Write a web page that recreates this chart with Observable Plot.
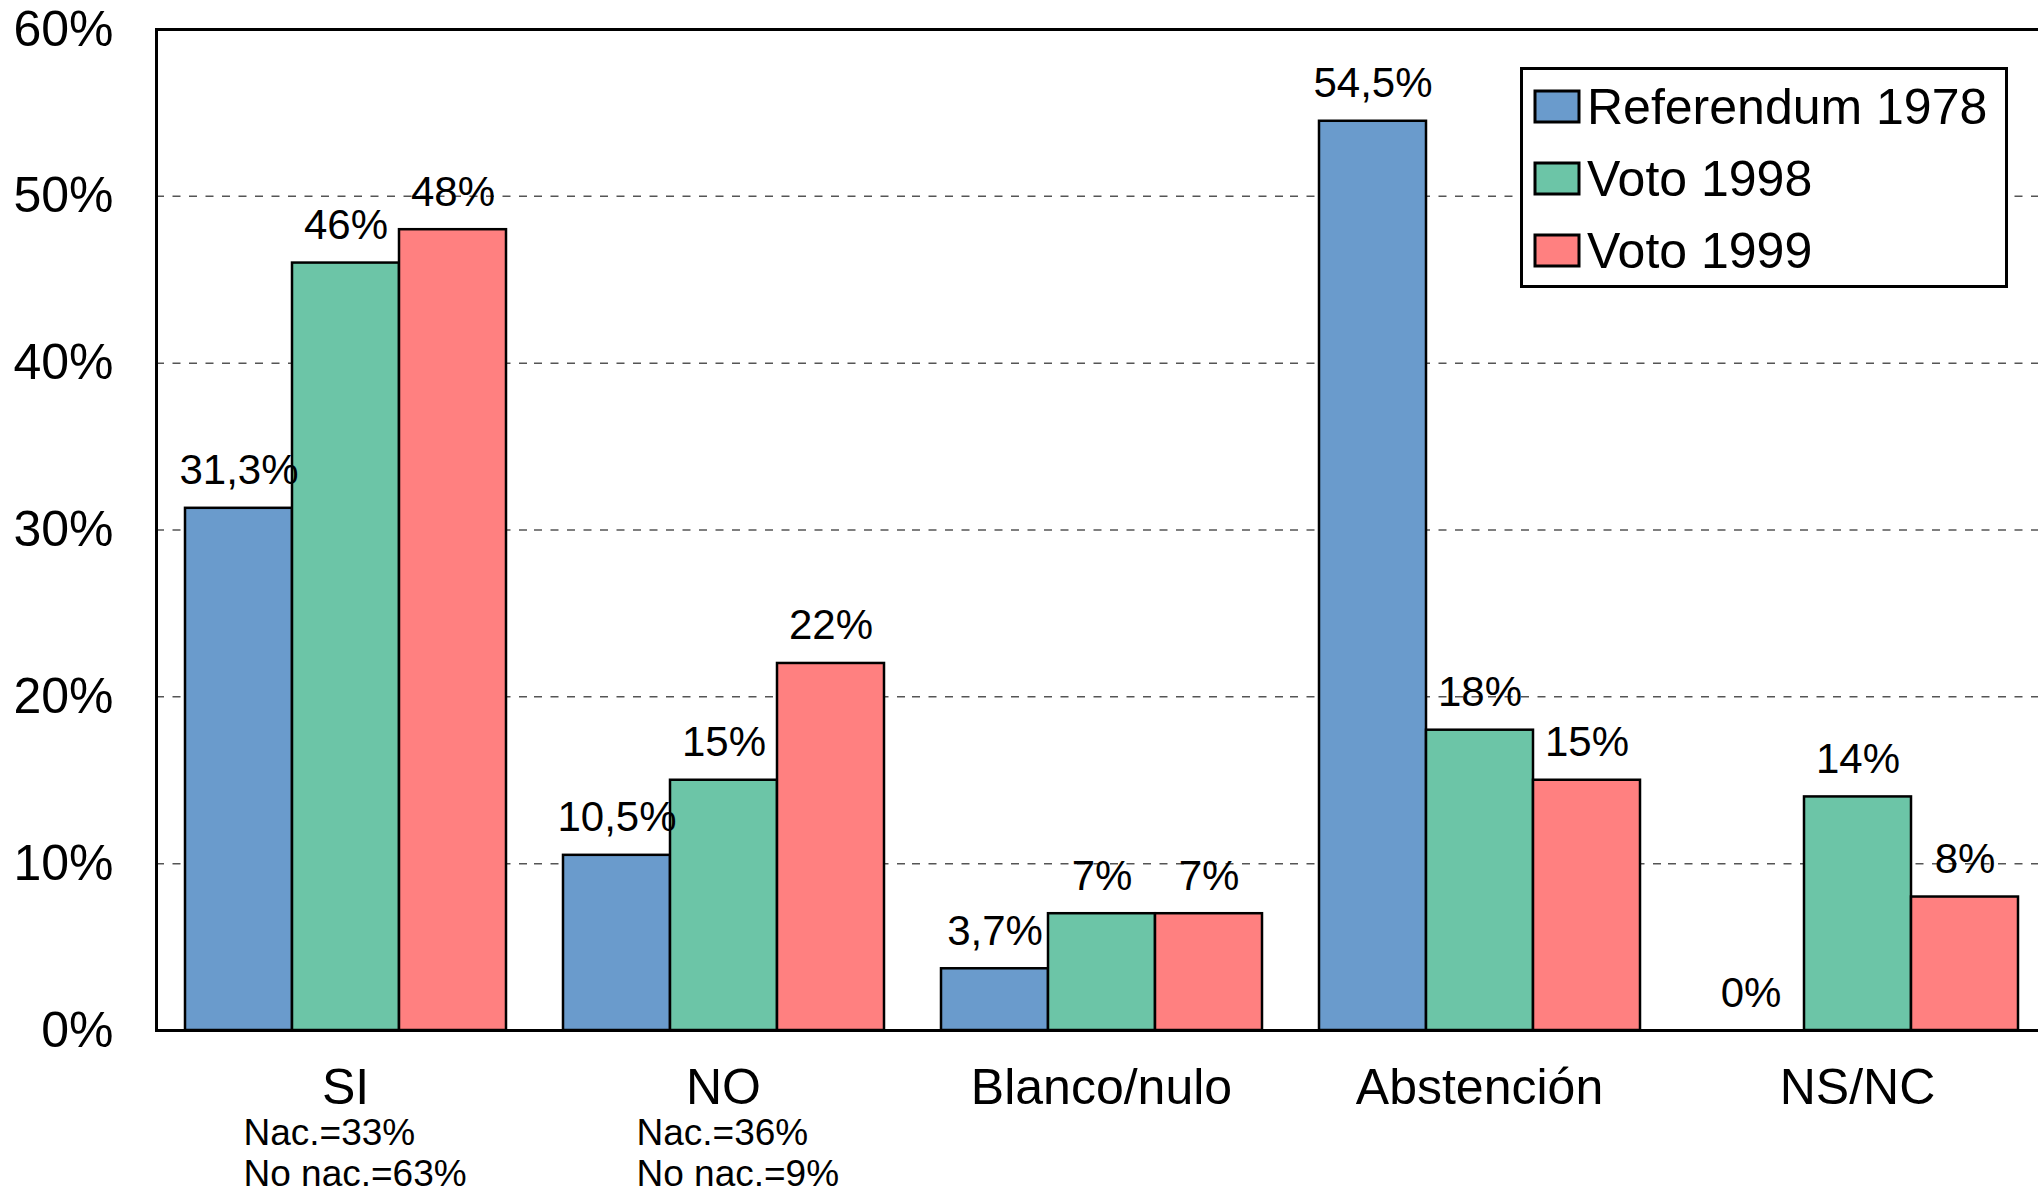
<!DOCTYPE html>
<html>
<head>
<meta charset="utf-8">
<script src="https://cdn.jsdelivr.net/npm/d3@7"></script>
<script src="https://cdn.jsdelivr.net/npm/@observablehq/plot@0.6"></script>
<style>
  html, body { margin: 0; padding: 0; background: #fff; overflow: hidden; }
  #wrap { position: relative; width: 2038px; height: 1193px; overflow: hidden; font-family: "Liberation Sans", Arial, sans-serif; }
  #wrap > svg { max-width: none !important; }
  #legendBox { position: absolute; left: 1520px; top: 67px; width: 488px; height: 221px; box-sizing: border-box;
    border: 3px solid #000; background: #fff; padding-left: 12px; }
  #legendBox .lg-swatches { margin: 0 !important; font-size: 50px !important; font-family: "Liberation Sans", Arial, sans-serif !important; color: #000; }
  #legendBox .lg-swatch { height: 72px; display: flex; align-items: center; padding: 0; margin: 0; }
  #legendBox .lg-swatch svg { width: 44px; height: 31px; margin-right: 8px !important; overflow: visible; flex-shrink: 0; }
  #legendBox .lg-swatch svg rect { stroke: #000; stroke-width: 3px; }
  #legendBox .lg-swatch-label { position: relative; top: 1px; overflow: visible !important; }
</style>
</head>
<body>
<div id="wrap"></div>
<script>
// ---- data ----
const categories = ["SI", "NO", "Blanco/nulo", "Abstención", "NS/NC"];
const series = ["Referendum 1978", "Voto 1998", "Voto 1999"];
const referendum1978 = [31.3, 10.5, 3.7, 54.5, 0];
const voto1998 = [46, 15, 7, 18, 14];
const voto1999 = [48, 22, 7, 15, 8];
const seriesColors = ["#6a9bcc", "#6cc5a7", "#ff8080"];
const yTicks = [0, 10, 20, 30, 40, 50, 60];
const gridTicks = [10, 20, 30, 40, 50];
const subLabelCategories = ["SI", "NO"];
const subLabelTexts = ["Nac.=33%\nNo nac.=63%", "Nac.=36%\nNo nac.=9%"];

// ---- tables ----
const seriesValues = [referendum1978, voto1998, voto1999];
const table = categories.flatMap((c, i) =>
  series.map((s, j) => ({category: c, series: s, value: seriesValues[j][i]})));
const subTable = subLabelCategories.map((c, i) => ({category: c, text: subLabelTexts[i]}));
const fmt = v => String(v).replace(".", ",") + "%";

const font = "Liberation Sans, Arial, sans-serif";

const chart = Plot.plot({
  width: 2046,
  height: 1193,
  marginLeft: 156,
  marginRight: 0,
  marginTop: 29,
  marginBottom: 163,
  style: {fontFamily: font, background: "transparent", color: "#000", overflow: "visible", maxWidth: "none"},
  fx: {domain: categories, padding: 0, label: null},
  x: {domain: series, paddingInner: 0, paddingOuter: 0.266, axis: null},
  y: {domain: [0, 60], label: null},
  color: {domain: series, range: seriesColors},
  marks: [
    Plot.ruleY(gridTicks, {stroke: "#555", strokeWidth: 1.5, strokeDasharray: "8,8.5"}),
    Plot.barY(table, {fx: "category", x: "series", y: "value", fill: "series", stroke: "#000", strokeWidth: 2.5}),
    Plot.frame({facet: "super", stroke: "#000", strokeWidth: 3}),
    Plot.text(table, {fx: "category", x: "series", y: "value", text: d => fmt(d.value),
      lineAnchor: "bottom", dy: -24, fontSize: 42, fill: "#000"}),
    Plot.text(subTable.filter(d => d.category === "SI"), {fx: "category", text: "text", frameAnchor: "bottom",
      textAnchor: "start", lineAnchor: "top", dx: -102, dy: 86, fontSize: 37, lineHeight: 1.1, fill: "#000"}),
    Plot.text(subTable.filter(d => d.category === "NO"), {fx: "category", text: "text", frameAnchor: "bottom",
      textAnchor: "start", lineAnchor: "top", dx: -87, dy: 86, fontSize: 37, lineHeight: 1.1, fill: "#000"}),
    Plot.axisY({ticks: yTicks, tickFormat: d => d + "%", tickSize: 0, tickPadding: 43, fontSize: 50, label: null}),
    Plot.axisFx({anchor: "bottom", tickSize: 0, tickPadding: 38, fontSize: 50, label: null})
  ]
});

const wrap = document.getElementById("wrap");
wrap.appendChild(chart);

const legendBox = document.createElement("div");
legendBox.id = "legendBox";
legendBox.appendChild(Plot.legend({
  color: {domain: series, range: seriesColors, type: "ordinal"},
  legend: "swatches",
  columns: 1,
  swatchWidth: 44,
  swatchHeight: 31,
  className: "lg"
}));
wrap.appendChild(legendBox);
</script>
</body>
</html>
